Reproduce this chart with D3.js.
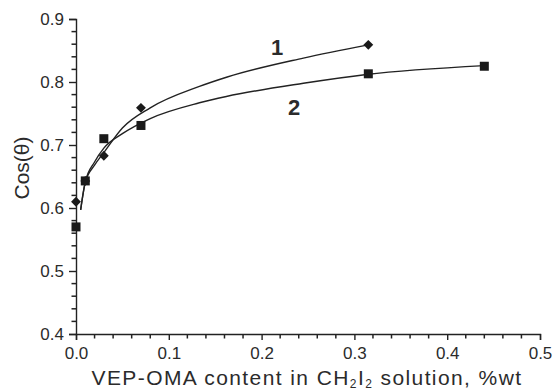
<!DOCTYPE html>
<html lang="en">
  <head>
    <meta charset="UTF-8" />
    <title>Cos(θ) vs VEP-OMA content</title>
    <style>
      * {
        margin: 0;
        padding: 0;
      }
      body {
        background-color: #fff;
      }
      text {
        font-family: "Liberation Sans", Arial, sans-serif;
        fill: #2b2b2b;
      }
    </style>
  </head>
  <body>
    <script src="https://cdn.jsdelivr.net/npm/d3@7/dist/d3.min.js"></script>
    <script>
      // measured points
      const s1x = [0.0, 0.01, 0.03, 0.07, 0.315];
      const s1y = [0.61, 0.643, 0.683, 0.759, 0.859];
      const s2x = [0.0, 0.01, 0.03, 0.07, 0.315, 0.44];
      const s2y = [0.57, 0.643, 0.71, 0.731, 0.813, 0.825];

      // fitted curves
      const fit1x = [0.005, 0.01, 0.02, 0.03, 0.05, 0.08, 0.133, 0.163, 0.245, 0.315];
      const fit1y = [0.597, 0.641, 0.668, 0.688, 0.727, 0.759, 0.793, 0.808, 0.838, 0.859];
      const fit2x = [0.005, 0.01, 0.02, 0.03, 0.05, 0.08, 0.133, 0.162, 0.245, 0.313, 0.44];
      const fit2y = [0.597, 0.641, 0.673, 0.695, 0.718, 0.742, 0.767, 0.777, 0.798, 0.812, 0.826];

      const xTicks = [0, 0.1, 0.2, 0.3, 0.4, 0.5];
      const yTicks = [0.4, 0.5, 0.6, 0.7, 0.8, 0.9];
      const xMinor = [0.02, 0.04, 0.06, 0.08, 0.12, 0.14, 0.16, 0.18, 0.22, 0.24, 0.26, 0.28, 0.32, 0.34, 0.36, 0.38, 0.42, 0.44, 0.46, 0.48];
      const yMinor = [0.42, 0.44, 0.46, 0.48, 0.52, 0.54, 0.56, 0.58, 0.62, 0.64, 0.66, 0.68, 0.72, 0.74, 0.76, 0.78, 0.82, 0.84, 0.86, 0.88];

      const svg = d3.select("body").append("svg").attr("width", 554).attr("height", 392);

      const x = d3.scaleLinear().domain([0, 0.5]).range([76, 540]);
      const y = d3.scaleLinear().domain([0.4, 0.9]).range([334, 19]);

      const ink = "#222";

      // 坐标轴
      const gx = svg.append("g").attr("transform", "translate(0,334)");
      gx.call(d3.axisBottom(x).tickValues(xTicks).tickSize(6).tickFormat(d3.format(".1f")));
      gx.selectAll("path").attr("stroke", ink).attr("stroke-width", 1.4);
      gx.selectAll("line").attr("stroke", ink).attr("stroke-width", 1.4);
      gx.selectAll("text").attr("font-size", 17).attr("fill", "#333").attr("y", 10).attr("dy", "0.9em");

      const gy = svg.append("g").attr("transform", "translate(76,0)");
      gy.call(d3.axisLeft(y).tickValues(yTicks).tickSize(7).tickFormat(d3.format(".1f")));
      gy.selectAll("path").attr("stroke", ink).attr("stroke-width", 1.4);
      gy.selectAll("line").attr("stroke", ink).attr("stroke-width", 1.4);
      gy.selectAll("text").attr("font-size", 17).attr("fill", "#333").attr("x", -12);

      // 小刻度
      svg
        .selectAll("line.xminor")
        .data(xMinor)
        .enter()
        .append("line")
        .attr("class", "xminor")
        .attr("x1", (d) => x(d))
        .attr("x2", (d) => x(d))
        .attr("y1", 334)
        .attr("y2", 338.5)
        .attr("stroke", ink)
        .attr("stroke-width", 1.5);
      svg
        .selectAll("line.yminor")
        .data(yMinor)
        .enter()
        .append("line")
        .attr("class", "yminor")
        .attr("x1", 76)
        .attr("x2", 71.5)
        .attr("y1", (d) => y(d))
        .attr("y2", (d) => y(d))
        .attr("stroke", ink)
        .attr("stroke-width", 1.5);

      // 拟合曲线
      const line = d3
        .line()
        .x((d) => x(d[0]))
        .y((d) => y(d[1]))
        .curve(d3.curveMonotoneX);
      [d3.zip(fit1x, fit1y), d3.zip(fit2x, fit2y)].forEach((pts) => {
        svg.append("path").attr("d", line(pts)).attr("fill", "none").attr("stroke", ink).attr("stroke-width", 1.4);
      });

      // 数据点
      svg
        .selectAll("rect.sq")
        .data(d3.zip(s2x, s2y))
        .enter()
        .append("rect")
        .attr("x", (d) => x(d[0]) - 4.5)
        .attr("y", (d) => y(d[1]) - 4.5)
        .attr("width", 9)
        .attr("height", 9)
        .attr("fill", "#1a1a1a");
      svg
        .selectAll("path.dm")
        .data(d3.zip(s1x, s1y))
        .enter()
        .append("path")
        .attr("d", d3.symbol(d3.symbolDiamond2, 62)())
        .attr("transform", (d) => `translate(${x(d[0])},${y(d[1])})`)
        .attr("fill", "#1a1a1a");

      // 曲线编号
      svg.append("text").attr("x", 277).attr("y", 55).attr("text-anchor", "middle").attr("font-size", 22).attr("font-weight", "bold").attr("fill", "#1a1a1a").text("1");
      svg.append("text").attr("x", 294).attr("y", 115).attr("text-anchor", "middle").attr("font-size", 22).attr("font-weight", "bold").attr("fill", "#1a1a1a").text("2");

      // 轴标题
      const xt = svg.append("text").attr("x", 307).attr("y", 385).attr("text-anchor", "middle").attr("font-size", 21);
      xt.append("tspan").text("VEP-OMA content in CH");
      xt.append("tspan").attr("font-size", 12).attr("dy", 3).text("2");
      xt.append("tspan").attr("dy", -3).text("I");
      xt.append("tspan").attr("font-size", 12).attr("dy", 3).text("2");
      xt.append("tspan").attr("dy", -3).text(" solution, %wt");
      // stretch to the original width
      const w = xt.node().getComputedTextLength();
      const nChars = xt.text().length;
      xt.attr("letter-spacing", (431 - w) / nChars);

      svg
        .append("text")
        .attr("transform", "translate(29,168) rotate(-90)")
        .attr("text-anchor", "middle")
        .attr("font-size", 21)
        .text("Cos(θ)");
    </script>
  </body>
</html>
